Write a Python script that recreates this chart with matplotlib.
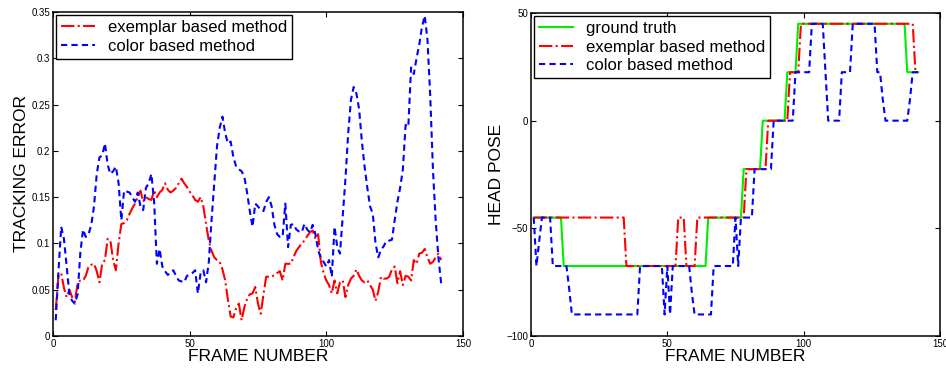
import numpy as np
import matplotlib
matplotlib.use('Agg')
import matplotlib.pyplot as plt

plt.rcParams['font.family'] = ['Liberation Sans', 'DejaVu Sans']

# ---- left panel: tracking error per frame (frames 1..142)
frames = np.arange(1, 143)

err_exemplar = [
    0.028, 0.065, 0.068, 0.052, 0.042, 0.050, 0.042, 0.037, 0.057, 0.060,
    0.060, 0.065, 0.075, 0.077, 0.078, 0.070, 0.058, 0.078, 0.082, 0.105,
    0.103, 0.082, 0.071, 0.100, 0.121, 0.122, 0.125, 0.132, 0.138, 0.143,
    0.150, 0.157, 0.145, 0.150, 0.148, 0.147, 0.157, 0.150, 0.155, 0.158,
    0.165, 0.158, 0.155, 0.157, 0.160, 0.165, 0.170, 0.165, 0.161, 0.156,
    0.152, 0.147, 0.145, 0.150, 0.140, 0.121, 0.103, 0.092, 0.085, 0.082,
    0.080, 0.072, 0.060, 0.039, 0.021, 0.020, 0.030, 0.035, 0.017, 0.031,
    0.040, 0.045, 0.046, 0.053, 0.035, 0.024, 0.045, 0.064, 0.064, 0.064,
    0.066, 0.068, 0.070, 0.060, 0.078, 0.078, 0.078, 0.085, 0.092, 0.096,
    0.100, 0.103, 0.108, 0.112, 0.114, 0.105, 0.110, 0.080, 0.068, 0.060,
    0.055, 0.046, 0.060, 0.046, 0.058, 0.060, 0.042, 0.055, 0.062, 0.065,
    0.072, 0.065, 0.060, 0.058, 0.060, 0.055, 0.050, 0.038, 0.048, 0.064,
    0.062, 0.062, 0.064, 0.072, 0.075, 0.057, 0.070, 0.055, 0.065, 0.064,
    0.060, 0.082, 0.078, 0.089, 0.090, 0.094, 0.085, 0.078, 0.080, 0.085,
    0.089, 0.082,
]

err_color = [
    0.017, 0.070, 0.118, 0.105, 0.075, 0.045, 0.038, 0.035, 0.045, 0.090,
    0.115, 0.107, 0.110, 0.120, 0.140, 0.175, 0.193, 0.195, 0.208, 0.185,
    0.175, 0.178, 0.183, 0.165, 0.125, 0.157, 0.156, 0.155, 0.150, 0.145,
    0.155, 0.140, 0.136, 0.160, 0.165, 0.175, 0.145, 0.078, 0.094, 0.075,
    0.070, 0.066, 0.068, 0.071, 0.065, 0.060, 0.059, 0.058, 0.065, 0.066,
    0.068, 0.071, 0.046, 0.068, 0.071, 0.058, 0.080, 0.125, 0.165, 0.205,
    0.225, 0.237, 0.219, 0.208, 0.210, 0.193, 0.183, 0.180, 0.178, 0.172,
    0.155, 0.135, 0.118, 0.143, 0.140, 0.136, 0.135, 0.145, 0.150, 0.140,
    0.120, 0.110, 0.107, 0.107, 0.143, 0.096, 0.120, 0.121, 0.115, 0.113,
    0.112, 0.121, 0.115, 0.112, 0.120, 0.110, 0.093, 0.084, 0.080, 0.075,
    0.082, 0.064, 0.118, 0.096, 0.089, 0.130, 0.170, 0.219, 0.255, 0.269,
    0.262, 0.245, 0.210, 0.183, 0.160, 0.140, 0.132, 0.100, 0.085, 0.093,
    0.097, 0.103, 0.103, 0.104, 0.125, 0.145, 0.160, 0.180, 0.228, 0.226,
    0.290, 0.283, 0.300, 0.315, 0.334, 0.346, 0.320, 0.260, 0.180, 0.125,
    0.085, 0.057,
]

# ---- right panel: head pose, as (value, number of frames) runs
pose_truth_runs = [(-45, 11), (-67.5, 53), (-45, 13), (-22.5, 7), (0, 9),
                   (22.5, 4), (45, 40), (22.5, 5)]
pose_exemplar_runs = [(-45, 34), (-67.5, 19), (-45, 3), (-67.5, 4), (-45, 18),
                      (-22.5, 8), (0, 8), (22.5, 4), (45, 42), (22.5, 2)]
pose_color_runs = [(-45, 1), (-67.5, 1), (-56, 1), (-45, 4), (-67.5, 6),
                   (-78, 1), (-90, 25), (-67.5, 9), (-90, 1), (-67.5, 1),
                   (-90, 1), (-67.5, 7), (-80, 1), (-90, 7), (-67.5, 8),
                   (-45, 1), (-67.5, 1), (-45, 5), (-22.5, 7), (0, 8),
                   (22.5, 6), (45, 5), (22.5, 1), (0, 5), (22.5, 4), (45, 9),
                   (22.5, 2), (10, 1), (0, 9), (10, 1), (22.5, 3)]


def expand(runs):
    vals, counts = zip(*runs)
    return np.repeat(vals, counts)


pose_truth = expand(pose_truth_runs)
pose_exemplar = expand(pose_exemplar_runs)
pose_color = expand(pose_color_runs)

fig = plt.figure(figsize=(9.46, 3.68), dpi=100)
ax1 = fig.add_axes([53 / 946, 1 - 336 / 368, 410 / 946, 324 / 368])
ax2 = fig.add_axes([531 / 946, 1 - 336 / 368, 409 / 946, 323 / 368])


def style(ax):
    ax.tick_params(direction='in', top=True, right=True, labelsize=7,
                   length=3.5, width=0.8, pad=2)
    for s in ax.spines.values():
        s.set_linewidth(1.1)
    ax.set_xlim(0, 150)
    ax.set_xticks([0, 50, 100, 150])
    ax.set_xlabel('FRAME NUMBER', fontsize=12.5, labelpad=0)


def legend(ax):
    leg = ax.legend(loc='upper left', fontsize=12, fancybox=False,
                    edgecolor='black', framealpha=1, borderaxespad=0.2,
                    borderpad=0.3, labelspacing=0.2, handlelength=2.0)
    leg.get_frame().set_linewidth(1.0)


ax1.plot(frames, err_exemplar, color='red', ls='-.', lw=1.5,
         label='exemplar based method')
ax1.plot(frames, err_color, color='blue', ls=(0, (3, 2)), lw=1.5,
         label='color based method')
style(ax1)
ax1.set_ylim(0, 0.35)
ax1.set_yticks([0, 0.05, 0.1, 0.15, 0.2, 0.25, 0.3, 0.35])
ax1.set_yticklabels(['0', '0.05', '0.1', '0.15', '0.2', '0.25', '0.3', '0.35'])
ax1.set_ylabel('TRACKING ERROR', fontsize=12.5, labelpad=2)
legend(ax1)

ax2.plot(frames, pose_truth, color='#00ee00', ls='-', lw=1.5,
         label='ground truth')
ax2.plot(frames, pose_exemplar, color='red', ls='-.', lw=1.5,
         label='exemplar based method')
ax2.plot(frames, pose_color, color='blue', ls=(0, (3, 2)), lw=1.5,
         label='color based method')
style(ax2)
ax2.set_ylim(-100, 50)
ax2.set_yticks([-100, -50, 0, 50])
ax2.set_ylabel('HEAD POSE', fontsize=12.5, labelpad=2)
legend(ax2)

fig.savefig('out.png', dpi=100)
